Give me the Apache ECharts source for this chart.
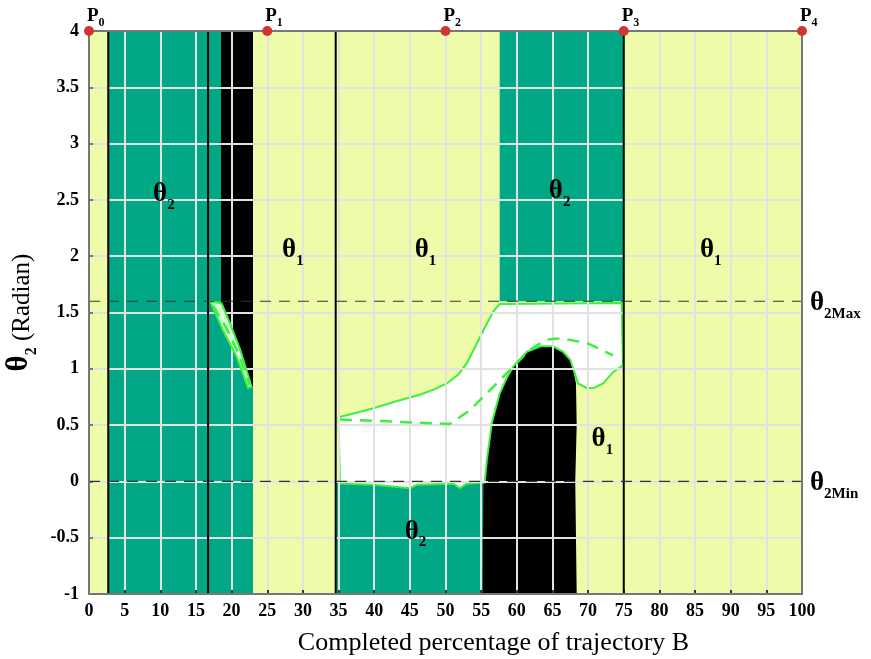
<!DOCTYPE html>
<html><head><meta charset="utf-8">
<script src="https://cdn.jsdelivr.net/npm/echarts@6/dist/echarts.min.js"></script>
<style>html,body{margin:0;padding:0;background:#fff}#chart{width:871px;height:659px}</style>
</head><body><div id="chart"></div>
<script>
const SERIF = '"Liberation Serif","Times New Roman",serif';
const YELLOW = '#EEFCAA', GREEN = '#00A886', LIME = '#3FEF3F';

// joint limits of θ2
const theta2Min = 0;
const theta2Max = 1.6;

// waypoints P0..P4 along the trajectory
const waypointNames = ['0', '1', '2', '3', '4'];
const waypointX = [0, 25, 50, 75, 100];
const waypointY = 4;

// vertical switching lines
const boundaryX = [2.7, 16.7, 34.6, 75];

// rectangular regions [x0, x1, y0, y1]
const plotArea = [[0, 100, -1, 4]];
const greenBands = [
  [2.7, 16.7, -1, 4], [16.7, 18.5, 1.6, 4], [16.7, 23, -1, 1.6],
  [57.6, 75, 1.6, 4], [34.6, 55.3, -1, 0]
];

// infeasible (black) areas
const blackUpper = [[18.5, 4], [23, 4], [23, 0.83], [22.8, 0.84], [21.2, 1.17], [19.8, 1.40], [18.6, 1.58], [18.5, 1.6]];
const blackBlob = [
  [55.2, -1], [55.3, 0], [55.5, 0.01], [55.8, 0.19], [56.5, 0.52], [57.6, 0.78], [58.6, 0.92], [59.5, 1.02],
  [61.4, 1.15], [63.3, 1.2], [65.1, 1.2], [66.5, 1.15], [67.5, 1.08], [68.0, 0.97], [68.3, 0.87],
  [68.4, 0.5], [68.2, 0], [68.4, -1]
];

// feasible region between the limits and its reference path
const feasibleRegion = [
  [35.2, -0.02], [35.0, 0.57], [37.5, 0.61], [39.9, 0.65], [43, 0.71], [46.4, 0.77], [48.5, 0.82], [50.2, 0.87],
  [51.8, 0.95], [53.0, 1.05], [54.2, 1.2], [55.3, 1.34], [56.7, 1.51], [57.6, 1.575], [66, 1.58], [74.7, 1.585],
  [74.9, 1.03], [73.5, 0.97], [72.1, 0.87], [70.8, 0.83], [69.8, 0.83], [68.6, 0.87],
  [67.5, 1.08], [66.5, 1.15], [65.1, 1.2], [63.3, 1.2], [61.4, 1.15], [59.5, 1.02], [58.6, 0.92], [57.6, 0.78],
  [56.5, 0.52], [55.8, 0.19], [55.5, -0.01], [53, -0.02], [52, -0.06], [51.1, -0.02], [46, -0.03],
  [45, -0.06], [40, -0.03], [35.2, -0.02]
];
const feasibleDash = [
  [35.2, 0.55], [43, 0.53], [50.6, 0.51], [53.4, 0.63], [56.7, 0.84], [59.5, 1.02], [61.8, 1.17],
  [64.2, 1.26], [66.1, 1.27], [69.8, 1.23], [73.5, 1.12]
];
const sliver = [[17.0, 1.6], [18.6, 1.58], [19.8, 1.40], [21.2, 1.17], [22.8, 0.84], [22.3, 0.83], [20.7, 1.11], [18.8, 1.34], [17.0, 1.6]];
const sliverDash = [[17.4, 1.56], [19.2, 1.37], [21.0, 1.13], [22.5, 0.86]];

// region labels θ1 / θ2
const regionSub = ['2', '1', '1', '2', '1', '1', '2'];
const regionX = [10.5, 28.6, 47.2, 66.0, 87.2, 72.0, 45.8];
const regionY = [2.55, 2.05, 2.05, 2.57, 2.05, 0.37, -0.45];

// limit labels on the right
const limitSub = ['2Max', '2Min'];
const limitY = [theta2Max, theta2Min];

const rectToPoly = r => [[r[0], r[2]], [r[1], r[2]], [r[1], r[3]], [r[0], r[3]]];

function polygonSeries(polys, style, z) {
  return {
    type: 'custom', z: z, silent: true, animation: false,
    data: polys.map(p => p[0]),
    renderItem: (params, api) => ({
      type: 'polygon',
      shape: { points: polys[params.dataIndex].map(pt => api.coord(pt)) },
      style: style
    })
  };
}
function lineSeries(lines, style, z) {
  return {
    type: 'custom', z: z, silent: true, animation: false,
    data: lines.map(p => p[0]),
    renderItem: (params, api) => ({
      type: 'polyline',
      shape: { points: lines[params.dataIndex].map(pt => api.coord(pt)) },
      style: Object.assign({ fill: null }, style)
    })
  };
}

const thetaRich = {
  t: { fontFamily: SERIF, fontSize: 27, fontWeight: 'bold', color: '#000', verticalAlign: 'bottom', lineHeight: 26 },
  s: { fontFamily: SERIF, fontSize: 15, fontWeight: 'bold', color: '#000', verticalAlign: 'bottom', lineHeight: 15, padding: [0, 0, -5, 0] }
};

const chart = echarts.init(document.getElementById('chart'), null, { renderer: 'canvas' });
chart.setOption({
  animation: false,
  backgroundColor: '#fff',
  grid: {
    left: 89, right: 69, top: 31, bottom: 65, containLabel: false, outerBoundsMode: 'none',
    show: true, borderColor: '#777', borderWidth: 2, backgroundColor: 'transparent', z: 6
  },
  xAxis: {
    type: 'value', min: 0, max: 100, interval: 5, z: 3,
    name: 'Completed percentage of trajectory B', nameLocation: 'middle', nameGap: 36,
    nameTextStyle: { fontFamily: SERIF, fontSize: 26, color: '#000', padding: [0, 0, 0, 96] },
    axisLine: { show: false, onZero: false },
    axisTick: { inside: true, length: 4, lineStyle: { color: '#000', width: 1.5 } },
    axisLabel: { fontFamily: SERIF, fontSize: 18, fontWeight: 'bold', color: '#000', margin: 8 },
    splitLine: { show: true, lineStyle: { color: '#E2E2E2', width: 2 } }
  },
  yAxis: {
    type: 'value', min: -1, max: 4, interval: 0.5, z: 3,
    name: '{t|θ}{s|2}{n| (Radian)}', nameLocation: 'middle', nameGap: 39, nameRotate: 90,
    nameTextStyle: {
      rich: {
        t: { fontFamily: SERIF, fontSize: 31, fontWeight: 'bold', color: '#000', verticalAlign: 'bottom', lineHeight: 28 },
        s: { fontFamily: SERIF, fontSize: 16, fontWeight: 'bold', color: '#000', verticalAlign: 'bottom', lineHeight: 16, padding: [0, 0, -5, 0] },
        n: { fontFamily: SERIF, fontSize: 25, color: '#000', verticalAlign: 'bottom', lineHeight: 28 }
      }
    },
    axisLine: { show: false, onZero: false },
    axisTick: { inside: true, length: 4, lineStyle: { color: '#555', width: 1.5 } },
    axisLabel: { fontFamily: SERIF, fontSize: 18, fontWeight: 'bold', color: '#000', margin: 10 },
    splitLine: { show: true, lineStyle: { color: '#E2E2E2', width: 2 } }
  },
  series: [
    polygonSeries(plotArea.map(rectToPoly), { fill: YELLOW }, 1),
    polygonSeries(greenBands.map(rectToPoly), { fill: GREEN }, 1),
    polygonSeries([blackUpper, blackBlob], { fill: '#000' }, 1),
    polygonSeries([feasibleRegion], { fill: '#fff', stroke: LIME, lineWidth: 2 }, 2),
    polygonSeries([sliver], { fill: '#D8FFD8', stroke: LIME, lineWidth: 2 }, 4),
    lineSeries([feasibleDash, sliverDash], { stroke: LIME, lineWidth: 2.5, lineDash: [12, 8] }, 4),
    // switching boundaries
    {
      type: 'custom', z: 5, silent: true, animation: false,
      data: boundaryX.map(x => [x, -1]),
      renderItem: (params, api) => {
        const a = api.coord([api.value(0), -1]), b = api.coord([api.value(0), 4]);
        return { type: 'line', shape: { x1: a[0], y1: a[1], x2: b[0], y2: b[1] }, style: { stroke: '#000', lineWidth: 2 } };
      }
    },
    // θ2 limits
    {
      type: 'custom', z: 5, silent: true, animation: false,
      data: limitY.map((y, i) => [100, y, i]),
      renderItem: (params, api) => {
        const y = api.value(1);
        const a = api.coord([0, y]), b = api.coord([100, y]);
        return {
          type: 'group', children: [
            { type: 'line', shape: { x1: a[0], y1: a[1], x2: b[0], y2: b[1] }, style: { stroke: '#333', lineWidth: 1.2, lineDash: [11, 8] } },
            { type: 'text', x: b[0] + 8, y: b[1] + 2, style: { text: '{t|θ}{s|' + limitSub[params.dataIndex] + '}', rich: thetaRich, align: 'left', verticalAlign: 'middle' } }
          ]
        };
      }
    },
    // region labels
    {
      type: 'custom', z: 7, silent: true, animation: false,
      data: regionX.map((x, i) => [x, regionY[i]]),
      renderItem: (params, api) => {
        const p = api.coord([api.value(0), api.value(1)]);
        return { type: 'text', x: p[0], y: p[1], style: { text: '{t|θ}{s|' + regionSub[params.dataIndex] + '}', rich: thetaRich, align: 'center', verticalAlign: 'middle' } };
      }
    },
    // waypoints
    {
      type: 'custom', z: 8, silent: true, animation: false,
      data: waypointX.map(x => [x, waypointY]),
      renderItem: (params, api) => {
        const p = api.coord([api.value(0), api.value(1)]);
        return {
          type: 'group', children: [
            { type: 'circle', shape: { cx: p[0], cy: p[1], r: 5 }, style: { fill: '#D03535' } },
            {
              type: 'text', x: p[0] - 2, y: p[1] - 5,
              style: {
                text: '{p|P}{s|' + waypointNames[params.dataIndex] + '}', align: 'left', verticalAlign: 'bottom',
                rich: {
                  p: { fontFamily: SERIF, fontSize: 19, fontWeight: 'bold', color: '#000', verticalAlign: 'bottom', lineHeight: 18 },
                  s: { fontFamily: SERIF, fontSize: 12, fontWeight: 'bold', color: '#000', verticalAlign: 'bottom', lineHeight: 12, padding: [0, 0, -3, 0] }
                }
              }
            }
          ]
        };
      }
    }
  ]
});
</script></body></html>
